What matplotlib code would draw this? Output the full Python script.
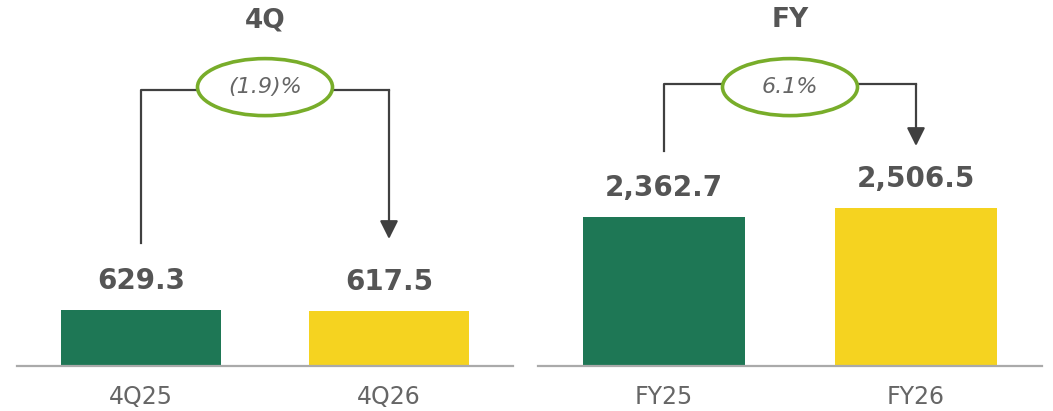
import numpy as np
import matplotlib.pyplot as plt
from matplotlib.patches import Ellipse
import matplotlib.transforms as mtransforms

plt.rcParams['font.family'] = ['DejaVu Sans']

# data
q_labels = ['4Q25', '4Q26']
q_values = [629.3, 617.5]
q_change = '(1.9)%'

fy_labels = ['FY25', 'FY26']
fy_values = [2362.7, 2506.5]
fy_change = '6.1%'

bar_colors = ['#1E7755', '#F5D320']
text_grey = '#555555'
line_grey = '#404040'
ring_green = '#78AD2A'

W, H = 1053, 411
fig = plt.figure(figsize=(W / 100, H / 100), dpi=100)

base = 366  # baseline in px from top


def panel(x0, x1, labels, values, title, change, ymax, ystart, ytop, ytip):
    ax = fig.add_axes([x0 / W, (H - base) / H, (x1 - x0) / W, base / H])
    xs = np.arange(len(values))
    ax.bar(xs, values, width=0.645, color=bar_colors, zorder=2)
    ax.set_xlim(-0.5, 1.5)
    ax.set_ylim(0, ymax)
    for s in ['top', 'right', 'left']:
        ax.spines[s].set_visible(False)
    ax.spines['bottom'].set_color('#AAAAAA')
    ax.spines['bottom'].set_linewidth(1.6)
    ax.set_yticks([])
    ax.set_xticks(xs)
    ax.set_xticklabels(labels, fontsize=17, color='#666666')
    ax.tick_params(axis='x', length=0, pad=14)

    for x, v in zip(xs, values):
        ax.annotate(f'{v:,.1f}', (x, v), xytext=(0, 21), textcoords='offset points',
                    ha='center', va='center', fontsize=20, fontweight='bold',
                    color=text_grey)

    ax.text(0.5, 0.945, title, transform=ax.transAxes, ha='center', va='center',
            fontsize=19, fontweight='bold', color=text_grey)

    # bracket with arrow
    tr = mtransforms.blended_transform_factory(ax.transData, ax.transAxes)
    ax.plot([xs[0], xs[0], xs[1]], [ystart, ytop, ytop], color=line_grey,
            lw=1.6, transform=tr, clip_on=False, zorder=3)
    ax.annotate('', xy=(xs[1], ytip), xycoords=tr, xytext=(xs[1], ytop), textcoords=tr,
                arrowprops=dict(arrowstyle='-|>,head_length=1.1,head_width=0.55',
                                mutation_scale=10, color=line_grey, lw=1.6,
                                shrinkA=0, shrinkB=0), zorder=3)

    ell = Ellipse((0.5, 0.762), 135 / (x1 - x0), 57 / base, transform=ax.transAxes,
                  facecolor='white', edgecolor=ring_green, lw=2.6, zorder=4, clip_on=False)
    ax.add_patch(ell)
    ax.text(0.5, 0.762, change, transform=ax.transAxes, ha='center', va='center',
            fontsize=16, fontstyle='italic', color='#666666', zorder=5)
    return ax


panel(17, 513, q_labels, q_values, '4Q', q_change, 4110,
      (base - 243) / base, (base - 90) / base, (base - 239) / base)
panel(538, 1042, fy_labels, fy_values, 'FY', fy_change, 5820,
      (base - 151) / base, (base - 84) / base, (base - 146) / base)

fig.savefig('out.png', dpi=100)
